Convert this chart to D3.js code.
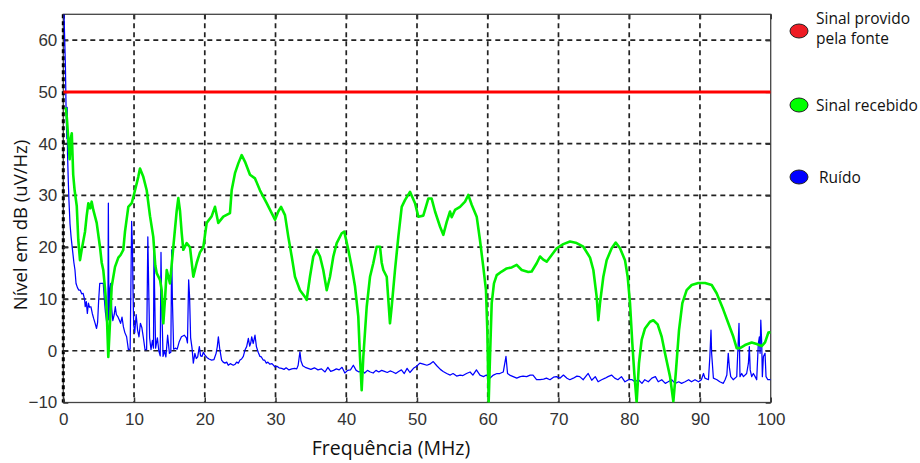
<!DOCTYPE html>
<html>
<head>
<meta charset="utf-8">
<script src="https://cdn.jsdelivr.net/npm/d3@7"></script>
<style>
  body { margin: 0; background: #fff; }
  svg { display: block; }
</style>
</head>
<body>
<div id="vis_espectro"></div>
<script>
// Ticks
const freqTicks = [0, 10, 20, 30, 40, 50, 60, 70, 80, 90, 100];
const levelTicks = [-10, 0, 10, 20, 30, 40, 50, 60];

// Signal provided by the source (flat level)
const sourceLevel = 50;

// Received signal (MHz, dB)
const receivedFreq = [0.35, 0.5, 0.7, 0.9, 1.05, 1.2, 1.4, 1.6, 1.9, 2.12, 2.36, 2.6, 3.07, 3.3, 3.54, 3.8, 4.01, 4.24, 4.72, 5.19,
  5.43, 5.65, 5.9, 6.13, 6.36, 6.6, 6.84, 7.31, 7.78, 8.1, 8.48, 8.72, 9.19, 9.67, 10.14, 10.6, 10.84, 11.31, 11.79, 12.26,
  12.72, 13.0, 13.2, 13.67, 13.91, 14.14, 14.38, 14.62, 15.08, 15.55, 16.03, 16.26, 16.5, 16.74, 16.96, 17.44, 17.91, 18.38, 18.86, 19.32,
  19.79, 20.27, 20.98, 21.44, 21.91, 22.62, 23.56, 23.8, 24.27, 24.74, 25.22, 25.69, 26.39, 27.1, 27.8, 28.75, 29.46, 29.93, 30.39, 30.78,
  31.34, 31.81, 32.29, 32.75, 33.46, 34.17, 34.4, 34.87, 35.34, 35.82, 36.29, 36.75, 37.24, 37.7, 38.17, 38.65, 39.36, 39.72, 40.29, 40.77,
  41.24, 41.7, 41.94, 42.18, 42.41, 42.89, 43.36, 43.82, 44.3, 44.77, 45.01, 45.24, 45.72, 46.18, 46.42, 46.89, 47.36, 47.84, 48.3, 49.01,
  49.72, 50.19, 50.89, 51.6, 52.07, 52.55, 53.25, 53.72, 54.2, 54.67, 54.9, 55.37, 56.08, 56.79, 57.25, 57.73, 58.44, 58.9, 59.37, 59.75,
  59.94, 60.13, 60.32, 60.56, 60.88, 61.27, 61.97, 62.68, 63.39, 64.09, 64.8, 65.73, 66.21, 66.92, 67.39, 67.85, 68.33, 69.04, 69.75, 70.68,
  71.63, 72.57, 73.51, 74.46, 74.93, 75.4, 75.63, 75.87, 76.34, 76.81, 77.52, 78.09, 78.7, 79.4, 79.78, 80.11, 80.44, 80.72, 81.05, 81.38,
  81.76, 82.23, 82.94, 83.41, 84.02, 84.59, 85.06, 85.77, 86.24, 86.57, 87.04, 87.51, 88.12, 88.83, 89.77, 90.72, 91.66, 92.36, 93.31, 94.01,
  94.72, 95.19, 95.66, 96.37, 97.31, 98.02, 98.73, 99.2, 99.67, 100];
const receivedLevel = [47, 45, 41, 37, 41, 42, 34, 31, 28, 21.4, 17.5, 19.5, 23, 26, 28.5, 27.5, 28.8, 27.2, 24.7, 20,
  17, 15.6, 12, 8, -1.2, 5.4, 12.4, 16.2, 18, 18.5, 19.5, 23, 27.8, 28.5, 31, 33.6, 35.2, 33.6, 31, 26,
  22, 16.5, 15, 13.7, 11.7, 5.3, 10, 15.6, 13, 20, 27, 29.5, 27, 22.7, 19.5, 20.8, 20, 14.3, 17, 19,
  20, 24.7, 26, 27.8, 24.7, 25.9, 26.6, 31, 34.3, 36.2, 37.8, 36.5, 34, 33.3, 31, 28.5, 26.6, 25.3, 26.9, 27.8,
  26.2, 22, 18.2, 14.3, 11.7, 10.4, 9.8, 14.3, 18.2, 19.5, 18.2, 15.6, 11.7, 14.3, 18.2, 20.8, 22.7, 23, 19.5, 16.2,
  12.4, 6.6, -1.2, -7.6, -1.2, 8.5, 14.3, 16.9, 20.1, 20.1, 17, 15.6, 14.3, 5.3, 8.5, 15.6, 22, 27.8, 29.1, 30.7,
  28.5, 25.9, 26.1, 29.4, 29.4, 26.9, 24, 22.4, 24.9, 26.9, 25.8, 27.2, 27.8, 28.8, 30.1, 28.2, 25.9, 21.4, 16.2, 11.7,
  4, -10, -1.2, 9.2, 13, 14.6, 15.3, 15.9, 16.1, 16.6, 15.6, 15.2, 15.3, 16.9, 18.2, 17.6, 17.2, 18.5, 19.8, 20.6,
  21.1, 20.8, 20.1, 18, 15.6, 10.4, 5.9, 9.2, 14.3, 17.5, 19.8, 20.9, 19.8, 17.5, 14.3, 9.2, 1.4, -4.4, -10, -2.4,
  2.1, 4.3, 5.6, 5.9, 5.1, 2.7, -0.5, -5, -9.8, -4.5, 4, 9.2, 11.7, 12.7, 13.1, 13.1, 12.7, 11.1, 7.9, 5.3,
  2.7, 0.5, 0.5, 1.1, 1.6, 1.3, 0.9, 1.6, 3.5, 3.6];

// Noise (MHz, dB)
const noiseFreq = [0.1, 0.3, 0.4, 0.5, 0.55, 0.6, 0.7, 0.8, 0.95, 1.1, 1.3, 1.5, 1.65, 1.8, 2.0, 2.2, 2.4, 2.6, 2.8, 3.0,
  3.1, 3.25, 3.4, 3.55, 3.7, 3.9, 4.1, 4.3, 4.5, 4.7, 4.85, 5.0, 5.15, 5.4, 5.65, 5.8, 5.95, 6.15, 6.3, 6.37,
  6.45, 6.6, 6.7, 6.85, 7.0, 7.2, 7.35, 7.5, 7.7, 7.9, 8.1, 8.3, 8.5, 8.7, 8.95, 9.2, 9.45, 9.66, 9.78, 9.85,
  9.95, 10.1, 10.3, 10.5, 10.7, 10.9, 11.1, 11.3, 11.55, 11.78, 11.95, 12.05, 12.2, 12.4, 12.6, 12.75, 12.82, 12.9, 13.05, 13.3,
  13.5, 13.7, 13.81, 13.9, 14.1, 14.3, 14.5, 14.75, 15.0, 15.2, 15.32, 15.42, 15.6, 15.9, 16.1, 16.4, 16.7, 17.1, 17.4, 17.55,
  17.72, 17.85, 18.0, 18.2, 18.38, 18.6, 18.8, 19.0, 19.23, 19.4, 19.6, 19.8, 20.0, 20.3, 20.6, 20.97, 21.3, 21.6, 21.77, 21.92,
  22.1, 22.38, 22.6, 22.85, 23.1, 23.32, 23.6, 24.03, 24.3, 24.5, 24.75, 24.98, 25.2, 25.45, 25.7, 25.92, 26.16, 26.35, 26.5, 26.63,
  26.85, 27.1, 27.3, 27.55, 27.8, 28.0, 28.25, 28.45, 28.7, 28.92, 29.2, 29.5, 29.9, 30.2, 30.5, 30.87, 31.2, 31.5, 31.9, 32.3,
  32.7, 33.0, 33.2, 33.45, 33.6, 33.85, 34.2, 34.6, 35.0, 35.5, 36.0, 36.5, 37.0, 37.4, 37.8, 38.2, 38.6, 39.0, 39.4, 39.8,
  40.2, 40.6, 41.0, 41.4, 41.8, 42.2, 42.6, 43.0, 43.4, 43.8, 44.2, 44.6, 45.0, 45.4, 45.8, 46.2, 46.6, 47.0, 47.4, 47.8,
  48.2, 48.6, 49.0, 49.5, 49.95, 50.4, 50.9, 51.4, 51.8, 52.3, 52.8, 53.3, 53.7, 54.2, 54.7, 55.1, 55.6, 56.1, 56.5, 57.0,
  57.5, 57.9, 58.4, 58.9, 59.4, 59.8, 60.3, 60.8, 61.3, 61.7, 62.2, 62.58, 62.8, 63.1, 63.6, 64.1, 64.6, 65.0, 65.5, 66.0,
  66.4, 66.9, 67.4, 67.9, 68.3, 68.8, 69.3, 69.7, 70.2, 70.7, 71.2, 71.6, 72.1, 72.6, 73.0, 73.5, 74.0, 74.2, 74.7, 75.2,
  75.6, 76.1, 76.6, 77.0, 77.5, 77.95, 78.4, 78.9, 79.4, 79.9, 80.4, 80.8, 81.3, 81.8, 82.2, 82.7, 83.2, 83.7, 84.1, 84.6,
  85.1, 85.5, 86.0, 86.5, 87.0, 87.4, 87.9, 88.4, 88.8, 89.3, 89.8, 90.2, 90.5, 90.7, 91.2, 91.4, 91.56, 91.65, 91.9, 92.4,
  92.8, 93.3, 93.55, 93.8, 94.0, 94.15, 94.35, 94.7, 95.2, 95.52, 95.66, 95.9, 96.15, 96.6, 96.85, 96.98, 97.1, 97.31, 97.55, 97.8,
  98.02, 98.25, 98.4, 98.5, 98.6, 98.73, 98.82, 98.97, 99.2, 99.34, 99.6, 100];
const noiseLevel = [65, 55, 46, 41, 47, 38, 33, 29, 24.5, 22, 19.5, 17, 15.6, 13, 12.2, 11.7, 11.7, 11, 11.1, 10,
  8.5, 9.5, 7.2, 9.2, 8.4, 8.5, 7.2, 6.2, 5.3, 4.3, 5.5, 9.8, 13, 13, 13, 10, 7.5, 5.3, 6, 28.5,
  6, 12, 13, 8, 5.8, 7, 8.5, 7, 6.6, 6, 5.3, 6.5, 4.6, 3.5, 2.7, 0.2, 0.3, 25, 20, 12,
  5, 3.5, 7, 4, 2.7, 5.3, 4.5, 2.7, 0.2, 0.2, 22, 14, 2.5, 0.2, 2, 0.5, 20.5, 12, 0.5, 2.5,
  0, -1, 19, 10, -1.1, 0, -1.2, 3, -0.5, -0.3, 19.5, 10, 0.3, 0.5, 0.3, 1.8, 2.7, 3, 2.5, 1.5,
  13.7, 10.5, 2.5, 0.5, -2.4, -0.5, -1.5, -1.2, 0.8, -1, -1.1, -0.3, -0.8, -1.3, -1.6, -1.8, -1.7, -0.5, 0.8, 2.7,
  0.5, -1.8, -2.2, -2.4, -2.2, -2.8, -2.5, -2.8, -2.6, -2.2, -2.4, -1.8, -1.6, -1.1, 0.2, 0.8, 2.4, 0.9, 1.5, 2.7,
  1.4, 3.0, 0.8, -0.3, -1.1, -1.2, -1.8, -1.8, -2.4, -2.2, -2.6, -2.5, -3.1, -3.0, -3.3, -3.4, -3.6, -3.3, -3.7, -3.5,
  -3.4, -3.5, -2.8, -0.2, -2.0, -2.9, -3.2, -3.4, -3.6, -3.3, -3.7, -3.5, -4.1, -3.2, -4.0, -3.8, -3.5, -3.7, -3.2, -4.3,
  -3.8, -3.7, -2.8, -3.8, -4.1, -3.8, -4.3, -3.8, -4.1, -4.3, -3.8, -4.1, -3.8, -4.0, -4.2, -3.9, -4.1, -4.4, -4.0, -3.7,
  -4.4, -3.4, -4.2, -3.4, -3.0, -2.4, -2.6, -2.8, -2.6, -2.1, -2.9, -3.6, -4.0, -4.4, -4.7, -4.4, -4.9, -4.7, -4.8, -4.4,
  -4.1, -4.7, -3.7, -4.7, -5.0, -4.7, -5.3, -4.7, -4.4, -4.4, -4.1, -1.1, -4.4, -4.7, -5.0, -5.3, -5.0, -4.9, -5.0, -4.7,
  -4.7, -5.6, -5.6, -5.5, -5.3, -5.6, -5.1, -5.0, -5.3, -4.7, -5.3, -5.6, -5.3, -4.9, -5.0, -5.6, -4.7, -4.4, -5.7, -5.0,
  -6.0, -5.6, -5.3, -5.0, -4.7, -5.3, -5.6, -5.0, -6.0, -5.6, -5.6, -6.0, -5.6, -6.3, -5.6, -6.0, -5.3, -5.0, -6.0, -5.6,
  -6.3, -6.0, -5.6, -6.3, -6.0, -6.3, -6.0, -5.6, -6.0, -5.6, -6.0, -5.6, -4.4, -5.3, -5.6, -1.1, 4.0, -0.5, -5.3, -5.6,
  -6.0, -6.3, -5.6, -4.7, -0.5, -3.1, -5.0, -5.6, -5.0, 5.3, -5.0, -4.4, -5.0, -4.4, -2.4, 0.8, -3.7, -5.0, -4.4, -5.0,
  -5.6, 1.4, 2.7, -0.5, 5.9, 1.4, -5.0, -1.1, -0.5, -5.0, -5.6, -5.6];

// Legend
const legendLabels = [["Sinal provido", "pela fonte"], ["Sinal recebido"], ["Ruído"]];
const legendColors = ["#ee1c24", "#00ff00", "#0000ff"];

// Sizes
const width = 920;
const height = 463;
const plot = { left: 63.3, right: 770.7, top: 14.3, bottom: 402.5 };

const SVG1 = createSvg("#vis_espectro", width, height);

// Scales
const x = d3.scaleLinear().domain([0, 100]).range([plot.left, plot.right]);
const y = d3.scaleLinear().domain([-10, 65]).range([plot.bottom, plot.top]);

// Clip so the traces stay inside the frame
SVG1.append("defs").append("clipPath")
  .attr("id", "plotClip")
  .append("rect")
  .attr("x", plot.left)
  .attr("y", plot.top)
  .attr("width", plot.right - plot.left)
  .attr("height", plot.bottom - plot.top);

drawGrid(SVG1);
drawAxes(SVG1);

const line = d3.line()
  .x(function (d) { return x(d[0]); })
  .y(function (d) { return y(d[1]); });

const traces = SVG1.append("g").attr("clip-path", "url(#plotClip)");

// Noise
traces.append("path")
  .datum(d3.zip(noiseFreq, noiseLevel))
  .attr("fill", "none")
  .attr("stroke", "#0000ff")
  .attr("stroke-width", 1.25)
  .attr("stroke-linejoin", "round")
  .attr("d", line);

// Received signal
traces.append("path")
  .datum(d3.zip(receivedFreq, receivedLevel))
  .attr("fill", "none")
  .attr("stroke", "#00f000")
  .attr("stroke-width", 2.6)
  .attr("stroke-linejoin", "round")
  .attr("d", line);

// Source signal
traces.append("path")
  .datum([[0, sourceLevel], [100, sourceLevel]])
  .attr("fill", "none")
  .attr("stroke", "#ff0000")
  .attr("stroke-width", 3)
  .attr("d", line);

drawLegend(SVG1);

// Axis titles
SVG1.append("text")
  .attr("x", 391)
  .attr("y", 455)
  .attr("text-anchor", "middle")
  .style("font-family", "'Open Sans', sans-serif")
  .style("font-size", "19.5px")
  .style("fill", "#111")
  .text("Frequência (MHz)");

SVG1.append("text")
  .attr("transform", "translate(27,225) rotate(-90)")
  .attr("text-anchor", "middle")
  .style("font-family", "'Open Sans', sans-serif")
  .style("font-size", "18.5px")
  .style("fill", "#111")
  .text("Nível em dB (uV/Hz)");

function createSvg(selector, width, height) {
  return d3.select(selector).append("svg")
    .attr("width", width)
    .attr("height", height);
}

function drawGrid(svg) {
  const grid = svg.append("g").attr("class", "grid");

  grid.selectAll(".vgrid")
    .data(freqTicks.slice(1, -1))
    .enter()
    .append("line")
    .attr("x1", function (d) { return x(d); })
    .attr("x2", function (d) { return x(d); })
    .attr("y1", plot.top)
    .attr("y2", plot.bottom)
    .attr("stroke", "#222")
    .attr("stroke-width", 1.7)
    .attr("stroke-dasharray", "5,4");

  grid.selectAll(".hgrid")
    .data(levelTicks.slice(1))
    .enter()
    .append("line")
    .attr("x1", plot.left)
    .attr("x2", plot.right)
    .attr("y1", function (d) { return y(d); })
    .attr("y2", function (d) { return y(d); })
    .attr("stroke", "#222")
    .attr("stroke-width", 1.7)
    .attr("stroke-dasharray", "5,4");
}

function drawAxes(svg) {
  // frame
  svg.append("rect")
    .attr("x", plot.left)
    .attr("y", plot.top)
    .attr("width", plot.right - plot.left)
    .attr("height", plot.bottom - plot.top)
    .attr("fill", "none")
    .attr("stroke", "#444")
    .attr("stroke-width", 1.3);

  // left edge is drawn dashed and heavier
  svg.append("line")
    .attr("x1", plot.left)
    .attr("x2", plot.left)
    .attr("y1", plot.top)
    .attr("y2", plot.bottom)
    .attr("stroke", "#000")
    .attr("stroke-width", 3)
    .attr("stroke-dasharray", "4,3");

  // bottom ticks + labels
  const xAxis = svg.append("g")
    .attr("transform", "translate(0," + plot.bottom + ")")
    .call(d3.axisBottom(x).tickValues(freqTicks).tickSizeInner(-5).tickSizeOuter(0).tickPadding(10.5));
  styleAxis(xAxis);

  const yAxis = svg.append("g")
    .attr("transform", "translate(" + plot.left + ",0)")
    .call(d3.axisLeft(y).tickValues(levelTicks).tickSizeInner(-5).tickSizeOuter(0).tickPadding(6));
  styleAxis(yAxis);

  // top and right inward ticks
  svg.append("g")
    .attr("transform", "translate(0," + plot.top + ")")
    .call(d3.axisTop(x).tickValues(freqTicks).tickSizeInner(-5).tickSizeOuter(0).tickFormat(""))
    .call(function (g) { g.select(".domain").remove(); g.selectAll("line").attr("stroke", "#333").attr("stroke-width", 1.5); });

  svg.append("g")
    .attr("transform", "translate(" + plot.right + ",0)")
    .call(d3.axisRight(y).tickValues(levelTicks).tickSizeInner(-5).tickSizeOuter(0).tickFormat(""))
    .call(function (g) { g.select(".domain").remove(); g.selectAll("line").attr("stroke", "#333").attr("stroke-width", 1.5); });
}

function styleAxis(g) {
  g.select(".domain").remove();
  g.selectAll("line").attr("stroke", "#333").attr("stroke-width", 1.5);
  g.selectAll("text")
    .style("font-family", "'Liberation Sans', Arial, sans-serif")
    .style("font-size", "17px")
    .style("fill", "#333");
}

function drawLegend(svg) {
  const legendY = [31, 105, 177];
  const legend = svg.append("g").attr("class", "legend");

  const items = legend.selectAll(".item")
    .data(legendLabels)
    .enter()
    .append("g")
    .attr("class", "item")
    .attr("transform", function (d, i) { return "translate(799," + legendY[i] + ")"; });

  items.append("ellipse")
    .attr("rx", 9)
    .attr("ry", 7)
    .attr("fill", function (d, i) { return legendColors[i]; })
    .attr("stroke", "#222")
    .attr("stroke-width", 1);

  items.append("text")
    .attr("x", function (d, i) { return i === 2 ? 20 : 17; })
    .attr("y", function (d) { return d.length > 1 ? -7 : 6; })
    .style("font-family", "'Open Sans', sans-serif")
    .style("font-size", "15.5px")
    .style("fill", "#111")
    .selectAll("tspan")
    .data(function (d) { return d; })
    .enter()
    .append("tspan")
    .attr("x", function () { return d3.select(this.parentNode).attr("x"); })
    .attr("dy", function (d, i) { return i === 0 ? 0 : 20; })
    .text(function (d) { return d; });
}
</script>
</body>
</html>
